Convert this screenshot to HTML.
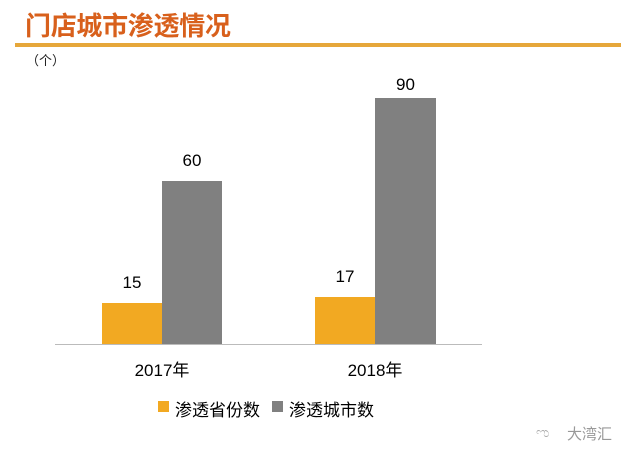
<!DOCTYPE html>
<html><head><meta charset="utf-8"><style>
body{margin:0;width:633px;height:462px;background:#fff;position:relative;overflow:hidden;font-family:"Liberation Sans","Noto Sans CJK SC",sans-serif}
.a{position:absolute;white-space:nowrap}
</style></head><body>
<div class="a" style="left:25px;top:6px;font-size:26px;font-weight:bold;color:#d8601c;letter-spacing:-0.3px">门店城市渗透情况</div>
<div class="a" style="left:15px;top:43px;width:606px;height:4px;background:#e6a73a"></div>
<div class="a" style="left:26px;top:50px;font-size:13px;color:#222">（个）</div>
<div class="a" style="left:55px;top:344px;width:427px;height:1px;background:#bbb"></div>
<div class="a" style="left:102px;top:303px;width:60px;height:41px;background:#f2a922"></div>
<div class="a" style="left:162px;top:181px;width:60px;height:163px;background:#808080"></div>
<div class="a" style="left:315px;top:297px;width:60px;height:47px;background:#f2a922"></div>
<div class="a" style="left:375px;top:98px;width:61px;height:246px;background:#808080"></div>
<div class="a" style="left:102px;top:273px;width:60px;text-align:center;font-size:17px">15</div>
<div class="a" style="left:162px;top:151px;width:60px;text-align:center;font-size:17px">60</div>
<div class="a" style="left:315px;top:267px;width:60px;text-align:center;font-size:17px">17</div>
<div class="a" style="left:375px;top:75px;width:61px;text-align:center;font-size:17px">90</div>
<div class="a" style="left:112px;top:356px;width:100px;text-align:center;font-size:17px">2017年</div>
<div class="a" style="left:325px;top:356px;width:100px;text-align:center;font-size:17px">2018年</div>
<div class="a" style="left:158px;top:401px;width:11px;height:11px;background:#f2a922"></div>
<div class="a" style="left:175px;top:396px;font-size:17px">渗透省份数</div>
<div class="a" style="left:272px;top:401px;width:11px;height:11px;background:#808080"></div>
<div class="a" style="left:289px;top:396px;font-size:17px">渗透城市数</div>
<div class="a" style="left:536px;top:424px;font-size:14px;color:#aaa">ಌ</div>
<div class="a" style="left:567px;top:423px;font-size:15px;color:#999">大湾汇</div>
</body></html>
